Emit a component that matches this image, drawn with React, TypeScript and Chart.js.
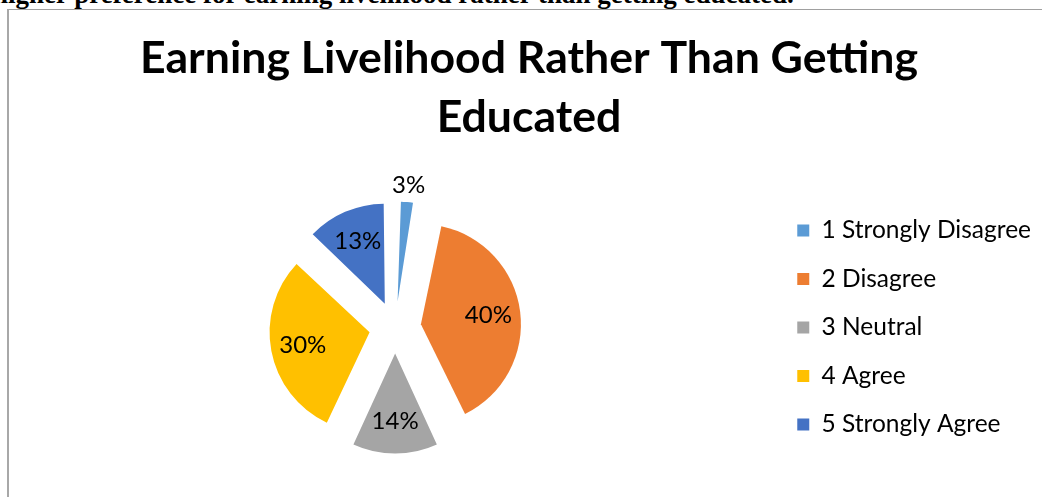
import React, { useEffect, useRef } from "react";
import { Chart, registerables } from "chart.js";

Chart.register(...registerables);

const categories = ["1 Strongly Disagree", "2 Disagree", "3 Neutral", "4 Agree", "5 Strongly Agree"];
const shares = [3, 40, 14, 30, 13];
const sliceColors = ["#5B9BD5", "#ED7D31", "#A5A5A5", "#FFC000", "#4472C4"];
const titleLines = ["Earning Livelihood Rather Than Getting", "Educated"];
const headingText = "higher preference for earning livelihood rather than getting educated.";

const OFFSET_DIV = 4; // Chart.js 4 draws arcs shifted by offset / 4
const VISUAL_OFFSET = 26;
const PIE_RADIUS = 100;
const LABEL_FONT = "24px Lato";

const radiusFix = {
  id: "radiusFix",
  beforeDatasetsDraw(chart: any) {
    const meta = chart.getDatasetMeta(0);
    const base = meta.controller.outerRadius;
    meta.data.forEach((arc: any) => {
      const off = (arc.options.offset || 0) / OFFSET_DIV;
      const fix = 1 - Math.sin(Math.min(Math.PI, arc.circumference || 0));
      arc.outerRadius = base - off * fix;
    });
  },
};

const sliceLabels = {
  id: "sliceLabels",
  afterDatasetsDraw(chart: any) {
    const ctx = chart.ctx;
    const meta = chart.getDatasetMeta(0);
    const r = meta.controller.outerRadius;
    ctx.save();
    ctx.font = LABEL_FONT;
    ctx.fillStyle = "#000";
    ctx.textAlign = "center";
    ctx.textBaseline = "middle";
    meta.data.forEach((arc: any, i: number) => {
      const v = shares[i];
      const mid = (arc.startAngle + arc.endAngle) / 2;
      const off = (arc.options.offset || 0) / OFFSET_DIV;
      const dist = v < 5 ? off + r + 17 : off + r * 0.68;
      ctx.fillText(v + "%", arc.x + Math.cos(mid) * dist, arc.y + Math.sin(mid) * dist);
    });
    ctx.restore();
  },
};

export default function App() {
  const ref = useRef<HTMLCanvasElement>(null);

  useEffect(() => {
    if (!ref.current) return;
    const chart = new Chart(ref.current, {
      type: "pie",
      data: {
        labels: categories,
        datasets: [
          {
            data: shares,
            backgroundColor: sliceColors,
            borderWidth: 0,
            offset: VISUAL_OFFSET * OFFSET_DIV,
          },
        ],
      },
      options: {
        animation: false,
        responsive: false,
        radius: PIE_RADIUS,
        layout: { padding: { left: 1, right: 5, top: 0, bottom: 0 } },
        plugins: {
          title: {
            display: true,
            text: titleLines,
            color: "#000",
            font: { family: "Lato", size: 44.6, weight: "bold", lineHeight: 59 / 44.6 },
            padding: { top: 19, bottom: 11 },
          },
          legend: {
            position: "right",
            align: "center",
            fullSize: false,
            maxWidth: 270,
            labels: {
              color: "#000",
              boxWidth: 12,
              boxHeight: 12,
              padding: 24,
              font: { family: "Lato", size: 24.5 },
            },
          },
          tooltip: { enabled: false },
        },
      },
      plugins: [radiusFix, sliceLabels],
    });
    return () => chart.destroy();
  }, []);

  return (
    <div style={{ position: "absolute", left: 0, top: 0, width: 1042, height: 497, overflow: "hidden", background: "#fff" }}>
      <div
        style={{
          position: "absolute",
          left: -7,
          top: -18.6,
          fontFamily: '"Liberation Serif", "Times New Roman", serif',
          fontWeight: "bold",
          fontSize: 27,
          lineHeight: "27px",
          whiteSpace: "nowrap",
          color: "#000",
        }}
      >
        {headingText}
      </div>
      <div
        style={{
          position: "absolute",
          left: 7,
          top: 9,
          width: 2000,
          height: 1000,
          borderLeft: "2px solid #a8a8a8",
          borderTop: "1px solid #a0a0a0",
        }}
      />
      <div style={{ position: "absolute", left: 16, top: 10, width: 1030, height: 487 }}>
        <canvas ref={ref} width={1030} height={487} style={{ display: "block" }} />
      </div>
    </div>
  );
}
